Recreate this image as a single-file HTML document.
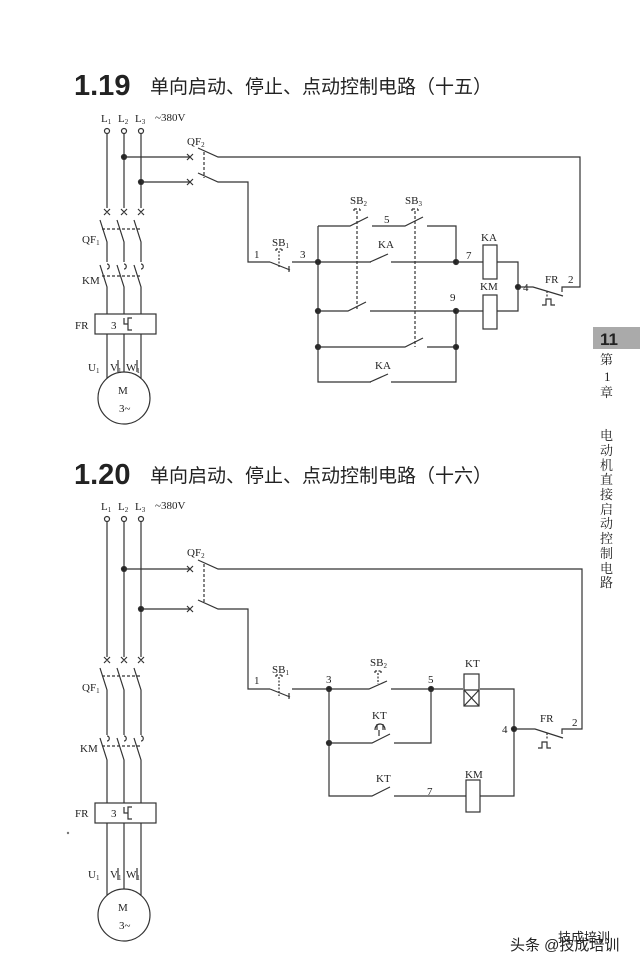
<!DOCTYPE html>
<html><head><meta charset="utf-8"><style>
html,body{margin:0;padding:0;background:#fff;}
svg{display:block;}
text{font-family:"Liberation Serif","Noto Serif CJK SC",serif;fill:#222;}
.cjk{font-family:"Liberation Sans","Noto Sans CJK SC",sans-serif;}
.num{font-family:"Liberation Sans",sans-serif;font-weight:bold;}
</style></head><body>
<svg width="640" height="967" viewBox="0 0 640 967" xmlns="http://www.w3.org/2000/svg" stroke="#333" stroke-width="1.2" fill="none">
<!-- Titles -->
<text class="num" x="74" y="95" font-size="29" stroke="none" fill="#111">1.19</text>
<text class="cjk" x="150" y="93" font-size="19" stroke="none" fill="#111">单向启动、停止、点动控制电路（十五）</text>
<text class="num" x="74" y="484" font-size="29" stroke="none" fill="#111">1.20</text>
<text class="cjk" x="150" y="482" font-size="19" stroke="none" fill="#111">单向启动、停止、点动控制电路（十六）</text>

<!-- Sidebar -->
<rect x="593" y="327" width="47" height="22" fill="#aaa" stroke="none"/>
<text class="num" x="600" y="345" font-size="17" stroke="none" fill="#111">11</text>
<g font-size="13" stroke="none" fill="#333" style="font-family:'Noto Serif CJK SC',serif">
<text x="600" y="364">第</text><text x="604" y="381" style="font-family:'Liberation Serif',serif">1</text><text x="600" y="397">章</text>
<text x="600" y="440">电</text><text x="600" y="455">动</text><text x="600" y="470">机</text><text x="600" y="484">直</text><text x="600" y="499">接</text><text x="600" y="514">启</text><text x="600" y="528">动</text><text x="600" y="543">控</text><text x="600" y="558">制</text><text x="600" y="573">电</text><text x="600" y="587">路</text>
</g>

<!-- ===== 1.19 power ===== -->
<g font-size="11" stroke="none" fill="#222">
<text x="101" y="122">L<tspan font-size="7" dy="2">1</tspan></text>
<text x="118" y="122">L<tspan font-size="7" dy="2">2</tspan></text>
<text x="135" y="122">L<tspan font-size="7" dy="2">3</tspan></text>
<text x="155" y="121">~380V</text>
<text x="187" y="145">QF<tspan font-size="7" dy="2">2</tspan></text>
<text x="82" y="243">QF<tspan font-size="7" dy="2">1</tspan></text>
<text x="82" y="284">KM</text>
<text x="75" y="329">FR</text>
<text x="111" y="329">3</text>
<text x="88" y="371">U<tspan font-size="7" dy="2">1</tspan></text>
<text x="110" y="371">V<tspan font-size="7" dy="2">1</tspan></text>
<text x="126" y="371">W<tspan font-size="7" dy="2">1</tspan></text>
<text x="118" y="394">M</text>
<text x="119" y="412">3~</text>
</g>
<circle cx="107" cy="131" r="2.5"/><circle cx="124" cy="131" r="2.5"/><circle cx="141" cy="131" r="2.5"/>
<path d="M107 134V208 M124 134V208 M141 134V208"/>
<path d="M104 209l6 6m0-6l-6 6 M121 209l6 6m0-6l-6 6 M138 209l6 6m0-6l-6 6"/>
<path d="M100 220L107 242V262 M117 220L124 242V262 M134 220L141 242V262"/>
<path d="M102 229H141" stroke-dasharray="3,2"/>
<path d="M107 264c3 0 3 5 0 5 M124 264c3 0 3 5 0 5 M141 264c3 0 3 5 0 5"/>
<path d="M100 265L107 287V314 M117 265L124 287V314 M134 265L141 287V314"/>
<path d="M102 276H141" stroke-dasharray="3,2"/>
<rect x="95" y="314" width="61" height="20"/>
<path d="M124 318v6h4v-6h4 M128 324v6h4"/>
<path d="M107 334V378 M124 334V372 M141 334V378 M118 360V372 M137 360V372"/>
<circle cx="124" cy="398" r="26"/>
<!-- QF2 -->
<circle cx="124" cy="157" r="2.5" fill="#222"/><circle cx="141" cy="182" r="2.5" fill="#222"/>
<path d="M124 157H190 M141 182H190"/>
<path d="M187 154l6 6m0-6l-6 6 M187 179l6 6m0-6l-6 6"/>
<path d="M198 148L218 157H580V287H567 M198 173L218 182H248V262H270"/>
<path d="M204 152V178" stroke-dasharray="3,2"/>
<!-- control 1.19 -->
<g font-size="11" stroke="none" fill="#222">
<text x="272" y="246">SB<tspan font-size="7" dy="2">1</tspan></text>
<text x="254" y="258">1</text><text x="300" y="258">3</text>
<text x="350" y="204">SB<tspan font-size="7" dy="2">2</tspan></text>
<text x="405" y="204">SB<tspan font-size="7" dy="2">3</tspan></text>
<text x="384" y="223">5</text>
<text x="378" y="248">KA</text>
<text x="466" y="259">7</text>
<text x="450" y="301">9</text>
<text x="481" y="241">KA</text>
<text x="480" y="290">KM</text>
<text x="523" y="291">4</text>
<text x="545" y="283">FR</text>
<text x="568" y="283">2</text>
<text x="375" y="369">KA</text>
</g>
<path d="M270 262L290 270 M289 266V272 M292 262H456"/>
<path d="M276 249h6 M276 249v2 M282 249v2 M279 251V268" stroke-dasharray="2,1.5"/>
<circle cx="318" cy="262" r="2.5" fill="#222"/><circle cx="318" cy="311" r="2.5" fill="#222"/><circle cx="318" cy="347" r="2.5" fill="#222"/>
<path d="M318 226V382H456V347"/>
<path d="M318 226H350L368 217 M372 226H405L423 217 M427 226H456V262"/>
<path d="M354 209h6 M354 209v2 M360 209v2 M357 211V311 M412 209h6 M412 209v2 M418 209v2 M415 211V347" stroke-dasharray="3,2"/>
<rect x="371" y="260" width="20" height="4" fill="#fff" stroke="none"/><path d="M370 262L388 254"/>
<circle cx="456" cy="262" r="2.5" fill="#222"/>
<path d="M318 311H348L366 302 M370 311H456V347"/>
<circle cx="456" cy="311" r="2.5" fill="#222"/><circle cx="456" cy="347" r="2.5" fill="#222"/>
<path d="M318 347H405L423 338 M427 347H456"/>
<rect x="371" y="380" width="20" height="4" fill="#fff" stroke="none"/><path d="M370 382L388 374"/>
<rect x="483" y="245" width="14" height="34" fill="#fff"/>
<rect x="483" y="295" width="14" height="34" fill="#fff"/>
<path d="M456 262H483 M497 262H518V311H497 M456 311H483"/>
<circle cx="518" cy="287" r="2.5" fill="#222"/>
<path d="M518 287H533L563 296 M562 292V287H567"/>
<path d="M547 291V298" stroke-dasharray="2,1.5"/>
<path d="M542 305h4v-6h5v6h4"/>

<!-- ===== 1.20 power ===== -->
<g font-size="11" stroke="none" fill="#222">
<text x="101" y="510">L<tspan font-size="7" dy="2">1</tspan></text>
<text x="118" y="510">L<tspan font-size="7" dy="2">2</tspan></text>
<text x="135" y="510">L<tspan font-size="7" dy="2">3</tspan></text>
<text x="155" y="509">~380V</text>
<text x="187" y="556">QF<tspan font-size="7" dy="2">2</tspan></text>
<text x="82" y="691">QF<tspan font-size="7" dy="2">1</tspan></text>
<text x="80" y="752">KM</text>
<text x="75" y="817">FR</text>
<text x="111" y="817">3</text>
<text x="88" y="878">U<tspan font-size="7" dy="2">1</tspan></text>
<text x="110" y="878">V<tspan font-size="7" dy="2">1</tspan></text>
<text x="126" y="878">W<tspan font-size="7" dy="2">1</tspan></text>
<text x="118" y="911">M</text>
<text x="119" y="929">3~</text>
</g>
<circle cx="107" cy="519" r="2.5"/><circle cx="124" cy="519" r="2.5"/><circle cx="141" cy="519" r="2.5"/>
<path d="M107 522V657 M124 522V657 M141 522V657"/>
<path d="M104 657l6 6m0-6l-6 6 M121 657l6 6m0-6l-6 6 M138 657l6 6m0-6l-6 6"/>
<path d="M100 668L107 690V735 M117 668L124 690V735 M134 668L141 690V735"/>
<path d="M102 676H141" stroke-dasharray="3,2"/>
<path d="M107 736c3 0 3 5 0 5 M124 736c3 0 3 5 0 5 M141 736c3 0 3 5 0 5"/>
<path d="M100 738L107 760V803 M117 738L124 760V803 M134 738L141 760V803"/>
<path d="M102 746H141" stroke-dasharray="3,2"/>
<rect x="95" y="803" width="61" height="20"/>
<path d="M124 807v6h4v-6h4 M128 813v6h4"/>
<path d="M107 823V895 M124 823V889 M141 823V895 M118 868V880 M137 868V880"/>
<circle cx="124" cy="915" r="26"/>
<circle cx="68" cy="833" r="1.2" fill="#777" stroke="none"/>
<circle cx="124" cy="569" r="2.5" fill="#222"/><circle cx="141" cy="609" r="2.5" fill="#222"/>
<path d="M124 569H190 M141 609H190"/>
<path d="M187 566l6 6m0-6l-6 6 M187 606l6 6m0-6l-6 6"/>
<path d="M198 560L218 569H582V729H569 M198 600L218 609H248V689H270"/>
<path d="M204 564V604" stroke-dasharray="3,2"/>
<!-- control 1.20 -->
<g font-size="11" stroke="none" fill="#222">
<text x="272" y="673">SB<tspan font-size="7" dy="2">1</tspan></text>
<text x="254" y="684">1</text><text x="326" y="683">3</text>
<text x="370" y="666">SB<tspan font-size="7" dy="2">2</tspan></text>
<text x="428" y="683">5</text>
<text x="465" y="667">KT</text>
<text x="372" y="719">KT</text>
<text x="502" y="733">4</text>
<text x="540" y="722">FR</text>
<text x="572" y="726">2</text>
<text x="376" y="782">KT</text>
<text x="427" y="795">7</text>
<text x="465" y="778">KM</text>
</g>
<path d="M270 689L290 697 M289 693V699 M292 689H369L387 681 M391 689H463 M480 689H514V796H480"/>
<path d="M276 675h6 M276 675v2 M282 675v2 M279 677V696 M375 671h6 M375 671v2 M381 671v2 M378 673V684" stroke-dasharray="2,1.5"/>
<circle cx="329" cy="689" r="2.5" fill="#222"/><circle cx="431" cy="689" r="2.5" fill="#222"/><circle cx="329" cy="743" r="2.5" fill="#222"/>
<rect x="464" y="674" width="15" height="32" fill="#fff"/>
<path d="M464 690H479 M464 690L479 706 M479 690L464 706"/>
<path d="M329 689V796H372L390 787 M394 796H466"/>
<path d="M329 743H372L390 734 M394 743H431V689"/>
<path d="M379 736V730 M375 730c0-8 10-8 10 0 M377 730V724 M383 730V724"/>
<rect x="466" y="780" width="14" height="32" fill="#fff"/>
<circle cx="514" cy="729" r="2.5" fill="#222"/>
<path d="M514 729H535L563 738 M562 734V729H569"/>
<path d="M547 733V740" stroke-dasharray="2,1.5"/>
<path d="M538 748h4v-6h5v6h4"/>

<!-- watermark -->
<text class="cjk" x="558" y="942" font-size="13" stroke="none" fill="#ccc">技成培训</text>
<text class="cjk" x="510" y="950" font-size="15" stroke="none" fill="#222">头条 @技成培训</text>
</svg>
</body></html>
